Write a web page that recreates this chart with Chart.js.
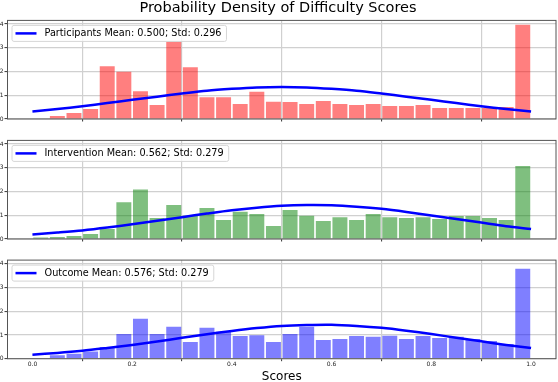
<!DOCTYPE html>
<html>
<head>
<meta charset="utf-8">
<script src="https://cdn.jsdelivr.net/npm/chart.js@4.4.1/dist/chart.umd.min.js"></script>
<style>
    html, body { margin: 0; padding: 0; background: #fff; }
    body { width: 558px; height: 382px; position: relative; overflow: hidden; }
    canvas { position: absolute; left: 0; }
</style>
</head>
<body>
<canvas id="panel1" width="558" height="125" style="top:0px"></canvas>
<canvas id="panel2" width="558" height="120" style="top:125px"></canvas>
<canvas id="panel3" width="558" height="137" style="top:245px"></canvas>
<script>
// histogram: 30 bins over [0, 1], density values
var binCount = 30;
var participantsDensity = [0, 0.13, 0.25, 0.42, 2.22, 1.99, 1.17, 0.59, 3.26, 2.18, 0.92, 0.92, 0.63, 1.15, 0.73, 0.72, 0.63, 0.76, 0.63, 0.59, 0.63, 0.55, 0.55, 0.59, 0.46, 0.46, 0.46, 0.46, 0.51, 3.97];
var interventionDensity = [0.06, 0.08, 0.13, 0.21, 0.42, 1.55, 2.08, 0.88, 1.43, 0.98, 1.30, 0.80, 1.15, 1.05, 0.55, 1.22, 0.98, 0.76, 0.92, 0.80, 1.05, 0.92, 0.88, 0.92, 0.84, 0.97, 0.97, 0.88, 0.80, 3.07];
var outcomeDensity = [0, 0.15, 0.21, 0.30, 0.49, 1.04, 1.68, 1.04, 1.34, 0.70, 1.30, 1.13, 0.96, 0.99, 0.70, 1.04, 1.35, 0.79, 0.83, 0.96, 0.92, 0.97, 0.83, 0.96, 0.87, 0.92, 0.83, 0.75, 0.62, 3.79];

// fitted normal curves, read at these x positions
var curveX = [0, 0.05, 0.1, 0.15, 0.2, 0.25, 0.3, 0.35, 0.4, 0.45, 0.5, 0.55, 0.6, 0.65, 0.7, 0.75, 0.8, 0.85, 0.9, 0.95, 1.0];
var participantsCurve = [0.32, 0.42, 0.54, 0.67, 0.81, 0.94, 1.07, 1.19, 1.27, 1.33, 1.35, 1.33, 1.27, 1.19, 1.07, 0.94, 0.81, 0.67, 0.54, 0.42, 0.32];
var interventionCurve = [0.19, 0.27, 0.36, 0.48, 0.62, 0.77, 0.92, 1.07, 1.21, 1.32, 1.40, 1.43, 1.42, 1.36, 1.27, 1.14, 0.99, 0.84, 0.69, 0.54, 0.42];
var outcomeCurve = [0.17, 0.24, 0.33, 0.45, 0.58, 0.72, 0.88, 1.03, 1.17, 1.29, 1.38, 1.42, 1.43, 1.38, 1.30, 1.18, 1.04, 0.88, 0.73, 0.58, 0.45];

var legendLabels = ['Participants Mean: 0.500; Std: 0.296', 'Intervention Mean: 0.562; Std: 0.279', 'Outcome Mean: 0.576; Std: 0.279'];
var chartTitle = 'Probability Density of Difficulty Scores';
var xAxisTitle = 'Scores';

var FONT = "'DejaVu Sans', 'Liberation Sans', sans-serif";

// frame on all four sides + matplotlib-like legend box
var framePlugin = {
    id: 'frameLegend',
    afterDatasetsDraw: function (chart, args, opts) {
        var ctx = chart.ctx;
        var ca = chart.chartArea;
        ctx.save();
        // legend
        var x0 = ca.left + 4.5;
        var y0 = ca.top + 5;
        var h = 16;
        ctx.font = '9.7px ' + FONT;
        var tw = ctx.measureText(opts.text).width;
        var w = 32.5 + tw + 5;
        ctx.beginPath();
        ctx.roundRect(x0, y0, w, h, 2);
        ctx.fillStyle = 'rgba(255,255,255,0.8)';
        ctx.fill();
        ctx.strokeStyle = '#d6d6d6';
        ctx.lineWidth = 1;
        ctx.stroke();
        ctx.beginPath();
        ctx.moveTo(x0 + 3.5, y0 + h / 2);
        ctx.lineTo(x0 + 24.5, y0 + h / 2);
        ctx.strokeStyle = '#0000ff';
        ctx.lineWidth = 2.5;
        ctx.stroke();
        ctx.fillStyle = '#000';
        ctx.textBaseline = 'middle';
        ctx.textAlign = 'left';
        ctx.fillText(opts.text, x0 + 32.5, y0 + h / 2 + 0.5);
        // frame
        ctx.strokeStyle = '#555';
        ctx.lineWidth = 1;
        ctx.strokeRect(ca.left, ca.top, ca.right - ca.left, ca.bottom - ca.top);
        ctx.restore();
    }
};

makePanel = (id, density, curve, color, label, opts) => {
    let bars = [];
    for (let i = 0; i < binCount; i++) {
        bars.push({ x: (i + 0.5) / binCount, y: density[i] });
    }
    let line = [];
    curveX.map(function (x, i) {
        line.push({ x: x, y: curve[i] });
    });

    new Chart(document.getElementById(id), {
        type: 'bar',
        data: {
            datasets: [
                {
                    type: 'line',
                    data: line,
                    borderColor: '#0000ff',
                    borderWidth: 2.5,
                    pointRadius: 0,
                    tension: 0.3,
                    order: 0
                },
                {
                    type: 'bar',
                    data: bars,
                    backgroundColor: color,
                    borderWidth: 0,
                    barPercentage: 1,
                    categoryPercentage: 0.9,
                    order: 1
                }
            ]
        },
        options: {
            responsive: false,
            animation: false,
            devicePixelRatio: 1,
            layout: { padding: { top: opts.padTop, right: 2, left: 0, bottom: 0 } },
            plugins: {
                legend: { display: false },
                tooltip: { enabled: false },
                title: opts.title ? {
                    display: true,
                    text: chartTitle,
                    color: '#000',
                    font: { family: FONT, size: 14.5, weight: 'normal', lineHeight: 1.1 },
                    padding: { top: 0, bottom: 4.45 }
                } : { display: false },
                frameLegend: { text: label }
            },
            scales: {
                x: {
                    type: 'linear',
                    min: -0.05,
                    max: 1.05,
                    offset: false,
                    border: { display: false },
                    grid: { color: '#d0d0d0', lineWidth: 1.2, tickColor: '#333', tickLength: 2.5, tickWidth: 1 },
                    ticks: {
                        display: opts.xLabels,
                        stepSize: 0.2,
                        includeBounds: false,
                        padding: 0,
                        color: '#222',
                        font: { family: FONT, size: 6, lineHeight: 1.2 },
                        callback: function (v) { return v.toFixed(1); },
                        maxRotation: 0
                    },
                    title: opts.xLabels ? {
                        display: true,
                        text: xAxisTitle,
                        color: '#000',
                        font: { family: FONT, size: 12, lineHeight: 0.8 },
                        padding: 0
                    } : { display: false },
                    afterFit: function (scale) { scale.height = opts.xHeight; }
                },
                y: {
                    min: 0,
                    max: 4.15,
                    border: { display: false },
                    grid: { color: '#d0d0d0', lineWidth: 1.2, tickColor: '#333', tickLength: 3, tickWidth: 1 },
                    ticks: {
                        stepSize: 1,
                        includeBounds: false,
                        padding: 1,
                        color: '#222',
                        font: { family: FONT, size: 6 }
                    },
                    afterFit: function (scale) { scale.width = 7.5; }
                }
            }
        },
        plugins: [framePlugin]
    });
};

makePanel('panel1', participantsDensity, participantsCurve, 'rgba(255,0,0,0.5)', legendLabels[0], { padTop: 0, title: true, xLabels: false, xHeight: 6 });
makePanel('panel2', interventionDensity, interventionCurve, 'rgba(0,128,0,0.5)', legendLabels[1], { padTop: 15.4, title: false, xLabels: false, xHeight: 6 });
makePanel('panel3', outcomeDensity, outcomeCurve, 'rgba(0,0,255,0.5)', legendLabels[2], { padTop: 15.1, title: false, xLabels: true, xHeight: 23.3 });
</script>
</body>
</html>
